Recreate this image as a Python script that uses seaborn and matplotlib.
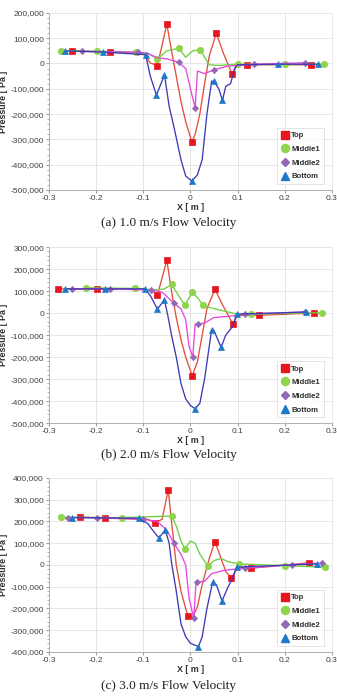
import matplotlib
matplotlib.use('Agg')
import matplotlib.pyplot as plt
from matplotlib.lines import Line2D
from matplotlib.ticker import FuncFormatter, MultipleLocator, AutoMinorLocator
import seaborn as sns

# Pressure along X for each probe line, three flow velocities (values in kPa)
captions = ['(a) 1.0 m/s Flow Velocity', '(b) 2.0 m/s Flow Velocity', '(c) 3.0 m/s Flow Velocity']
series_names = ['Top', 'Middle1', 'Middle2', 'Bottom']
y_limits = [(-500000, 200000), (-500000, 300000), (-400000, 400000)]

# (a) 1.0 m/s
a_top_x = [-0.25, -0.17, -0.1, -0.085, -0.07, -0.05, -0.04, -0.03, -0.02, -0.01, 0.003, 0.01, 0.02, 0.03, 0.04, 0.055, 0.07, 0.088, 0.1, 0.12, 0.255]
a_top_y = [50, 45, 40, 2, -8, 155, 50, -50, -150, -230, -310, -280, -200, -80, 30, 120, 40, -40, -5, -5, -5]
a_top_mk = [0, 1, 4, 5, 10, 15, 17, 19, 20]
a_mid1_x = [-0.275, -0.198, -0.115, -0.09, -0.07, -0.05, -0.025, -0.01, 0.005, 0.02, 0.04, 0.06, 0.1, 0.2, 0.283]
a_mid1_y = [50, 48, 45, 40, 18, 50, 60, 25, 50, 55, -5, -8, -3, -3, -3]
a_mid1_mk = [0, 1, 2, 4, 6, 9, 12, 13, 14]
a_mid2_x = [-0.23, -0.112, -0.09, -0.07, -0.05, -0.025, -0.01, 0.0, 0.01, 0.015, 0.03, 0.05, 0.08, 0.1, 0.135, 0.243]
a_mid2_y = [48, 45, 40, 22, 18, 5, -20, -100, -175, -30, -40, -25, -10, -8, -3, 3]
a_mid2_mk = [0, 1, 5, 8, 11, 14, 15]
a_bot_x = [-0.265, -0.185, -0.095, -0.085, -0.072, -0.055, -0.045, -0.035, -0.02, -0.01, 0.003, 0.015, 0.025, 0.035, 0.045, 0.05, 0.06, 0.068, 0.075, 0.085, 0.095, 0.1, 0.185, 0.27]
a_bot_y = [50, 45, 35, -50, -125, -45, -170, -250, -380, -445, -465, -440, -380, -200, -70, -70, -100, -145, -90, -80, -15, -5, -3, -3]
a_bot_mk = [0, 1, 2, 4, 5, 10, 15, 17, 22, 23]

# (b) 2.0 m/s
b_top_x = [-0.28, -0.198, -0.1, -0.08, -0.07, -0.05, -0.04, -0.03, -0.02, -0.01, 0.004, 0.015, 0.025, 0.035, 0.052, 0.07, 0.09, 0.1, 0.145, 0.262]
b_top_y = [110, 108, 110, 100, 80, 240, 100, -20, -120, -200, -285, -220, -100, 20, 108, 30, -50, -10, -10, 0]
b_top_mk = [0, 1, 4, 5, 10, 14, 16, 18, 19]
b_mid1_x = [-0.222, -0.117, -0.07, -0.055, -0.04, -0.025, -0.012, 0.004, 0.015, 0.027, 0.05, 0.08, 0.1, 0.128, 0.278]
b_mid1_y = [115, 112, 105, 110, 130, 80, 35, 95, 70, 35, 20, 5, -5, -5, 2]
b_mid1_mk = [0, 1, 4, 6, 7, 9, 13, 14]
b_mid2_x = [-0.25, -0.17, -0.083, -0.06, -0.035, -0.02, -0.01, -0.003, 0.005, 0.01, 0.017, 0.03, 0.05, 0.08, 0.115, 0.243]
b_mid2_y = [110, 110, 105, 95, 45, 20, -30, -150, -200, -50, -50, -45, -20, -15, -5, 5]
b_mid2_mk = [0, 1, 2, 4, 8, 10, 14, 15]
b_bot_x = [-0.265, -0.18, -0.097, -0.085, -0.07, -0.055, -0.048, -0.04, -0.03, -0.02, -0.01, 0.0, 0.01, 0.02, 0.03, 0.04, 0.045, 0.05, 0.065, 0.075, 0.09, 0.098, 0.245]
b_bot_y = [110, 110, 110, 80, 18, 60, -10, -100, -200, -320, -390, -420, -435, -410, -300, -150, -75, -80, -155, -100, -60, -5, 5]
b_bot_mk = [0, 1, 2, 4, 5, 12, 16, 18, 21, 22]

# (c) 3.0 m/s
c_top_x = [-0.235, -0.18, -0.09, -0.075, -0.06, -0.047, -0.04, -0.03, -0.02, -0.01, -0.005, 0.005, 0.015, 0.025, 0.04, 0.052, 0.065, 0.075, 0.087, 0.1, 0.128, 0.252]
c_top_y = [220, 215, 210, 195, 210, 345, 200, 0, -120, -200, -235, -240, -190, -90, 30, 108, 30, -30, -60, -10, -15, 10]
c_top_mk = [0, 1, 3, 5, 10, 15, 18, 20, 21]
c_mid1_x = [-0.275, -0.145, -0.04, -0.03, -0.02, -0.012, 0.0, 0.01, 0.02, 0.037, 0.05, 0.065, 0.08, 0.103, 0.2, 0.285]
c_mid1_y = [220, 218, 225, 180, 110, 75, 110, 100, 50, -5, 20, 30, 15, 5, -3, -10]
c_mid1_mk = [0, 1, 2, 5, 9, 13, 14, 15]
c_mid2_x = [-0.26, -0.197, -0.1, -0.07, -0.05, -0.035, -0.02, -0.01, -0.003, 0.007, 0.012, 0.015, 0.03, 0.045, 0.07, 0.09, 0.115, 0.215, 0.278]
c_mid2_y = [218, 218, 210, 200, 160, 100, 50, 0, -150, -245, -80, -78, -75, -40, -25, -20, -15, 2, 8]
c_mid2_mk = [0, 1, 2, 5, 9, 11, 16, 17, 18]
c_bot_x = [-0.25, -0.11, -0.09, -0.08, -0.067, -0.053, -0.045, -0.04, -0.03, -0.02, -0.01, 0.0, 0.017, 0.025, 0.035, 0.047, 0.055, 0.067, 0.08, 0.09, 0.098, 0.268]
c_bot_y = [218, 215, 190, 160, 125, 160, 100, 10, -120, -270, -330, -360, -375, -330, -200, -80, -90, -165, -100, -60, -10, 5]
c_bot_mk = [0, 1, 4, 5, 12, 15, 17, 20, 21]

panels = [
    [(a_top_x, a_top_y, a_top_mk), (a_mid1_x, a_mid1_y, a_mid1_mk), (a_mid2_x, a_mid2_y, a_mid2_mk), (a_bot_x, a_bot_y, a_bot_mk)],
    [(b_top_x, b_top_y, b_top_mk), (b_mid1_x, b_mid1_y, b_mid1_mk), (b_mid2_x, b_mid2_y, b_mid2_mk), (b_bot_x, b_bot_y, b_bot_mk)],
    [(c_top_x, c_top_y, c_top_mk), (c_mid1_x, c_mid1_y, c_mid1_mk), (c_mid2_x, c_mid2_y, c_mid2_mk), (c_bot_x, c_bot_y, c_bot_mk)],
]

# line colour, marker colour, marker shape, marker size
styles = [
    ('#e0503c', '#e8141e', 's', 4.4),
    ('#6cd040', '#8ed44c', 'o', 4.6),
    ('#e846e0', '#9468b4', 'D', 3.2),
    ('#3c3cb4', '#1e78c8', '^', 4.2),
]

sns.set_style('whitegrid')
plt.rcParams['font.family'] = ['Liberation Sans', 'DejaVu Sans']

fig = plt.figure(figsize=(3.37, 6.97), dpi=100)
axes_boxes = [
    [0.145, 0.7275, 0.84, 0.254],
    [0.145, 0.3930, 0.84, 0.2525],
    [0.145, 0.0646, 0.84, 0.2496],
]
caption_y = [0.671, 0.338, 0.007]

for i, boxes in enumerate(axes_boxes):
    ax = fig.add_axes(boxes)
    for (xs, ys, mk), (lc, mc, shape, ms) in zip(panels[i], styles):
        sns.lineplot(x=xs, y=[v * 1000 for v in ys], ax=ax, sort=False,
                     color=lc, linewidth=0.95, marker=shape, markevery=mk,
                     markersize=ms, markerfacecolor=mc, markeredgecolor=mc,
                     markeredgewidth=0.5, legend=False)
    ax.set_xlim(-0.3, 0.3)
    ax.set_ylim(*y_limits[i])
    ax.xaxis.set_major_locator(MultipleLocator(0.1))
    ax.yaxis.set_major_locator(MultipleLocator(100000))
    ax.yaxis.set_minor_locator(AutoMinorLocator(5))
    ax.xaxis.set_major_formatter(FuncFormatter(lambda v, p: f'{v:g}' if abs(v) > 1e-9 else '0'))
    ax.yaxis.set_major_formatter(FuncFormatter(lambda v, p: f'{int(round(v)):,}'))
    ax.tick_params(axis='both', labelsize=6.0, colors='#404040', pad=1.5, length=2)
    ax.tick_params(axis='y', which='minor', length=1.2, left=True, color='#a0a0a0')
    ax.tick_params(axis='y', which='major', left=True, color='#a0a0a0')
    ax.tick_params(axis='x', which='major', bottom=True, color='#a0a0a0')
    ax.grid(True, color='#e2e2e2', linewidth=0.6)
    for side in ['top', 'right']:
        ax.spines[side].set_color('#e6e6e6')
        ax.spines[side].set_linewidth(0.6)
    for side in ['left', 'bottom']:
        ax.spines[side].set_color('#b0b0b0')
        ax.spines[side].set_linewidth(0.7)
    ax.set_xlabel('X [ m ]', fontsize=6.4, fontweight='bold', color='#303030', labelpad=1)
    ax.set_ylabel('Pressure [ Pa ]', fontsize=6.4, fontweight='bold', color='#303030', labelpad=2)

    handles = [Line2D([], [], linestyle='none', marker=shape, color=mc,
                      markersize=ms + 1.2, markeredgecolor=mc)
               for (lc, mc, shape, ms) in styles]
    leg = ax.legend(handles, series_names, loc='lower right',
                    frameon=True, fancybox=False, borderpad=0.5,
                    labelspacing=0.8, handletextpad=0.3, handlelength=1.0,
                    bbox_to_anchor=(0.985, 0.01), prop={'weight': 'bold', 'size': 5.6})
    leg.get_frame().set_edgecolor('#d8d8d8')
    leg.get_frame().set_linewidth(0.6)
    for t in leg.get_texts():
        t.set_color('#303030')

    fig.text(0.5, caption_y[i], captions[i], ha='center', va='bottom',
             fontsize=9.5, family='Liberation Serif', color='#202020')

fig.savefig('out.png', dpi=100)
